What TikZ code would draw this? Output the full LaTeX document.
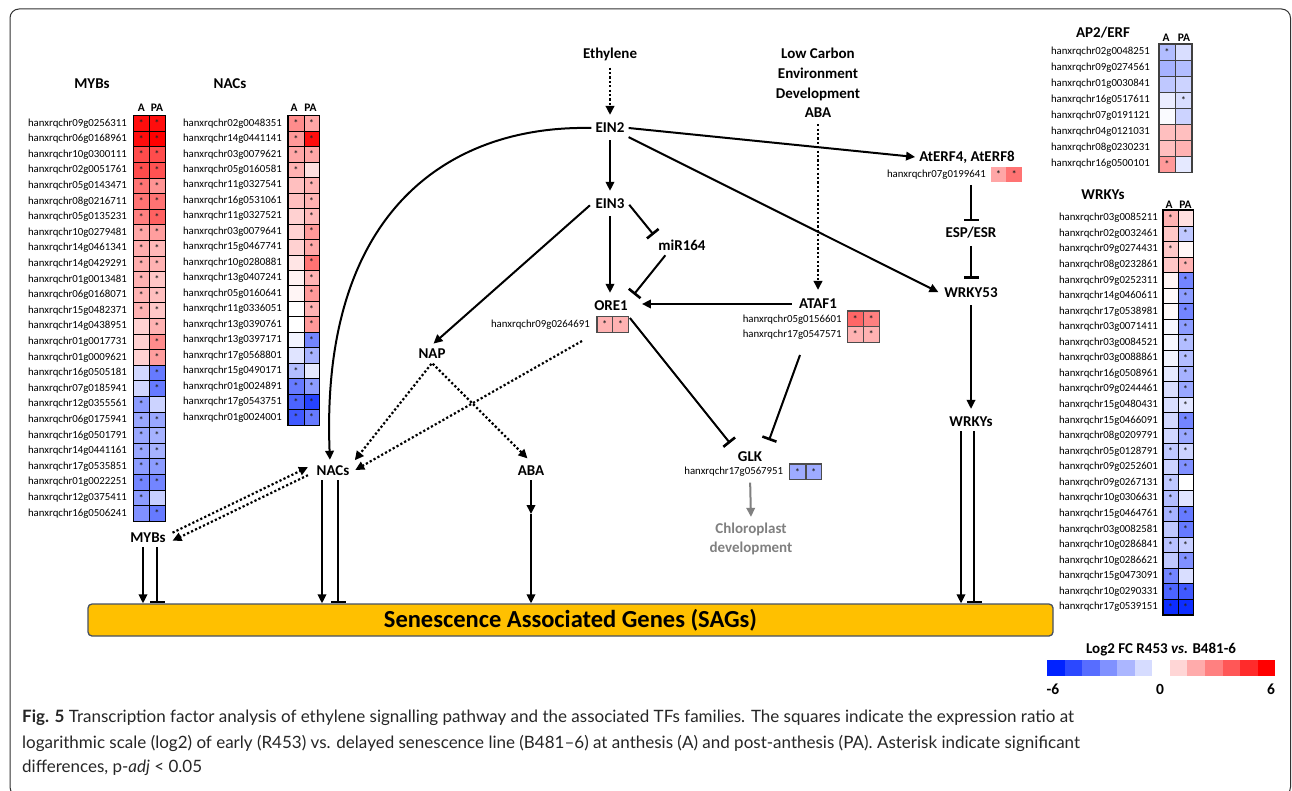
\documentclass[tikz,border=0pt]{standalone}
\usepackage{fontspec}
\setmainfont{Carlito}
\newfontfamily\capfont{Lato}
\usetikzlibrary{arrows.meta}
\definecolor{hmred}{RGB}{255,0,0}
\definecolor{hmblue}{RGB}{0,34,255}
\definecolor{sagfill}{RGB}{255,192,0}
\definecolor{sagdraw}{RGB}{70,80,100}
\definecolor{framec}{RGB}{50,50,50}
\definecolor{chlgray}{RGB}{128,128,128}
\newcommand\hmcell[5]{%
  \ifnum#4<0 \edef\hmc{hmblue!\the\numexpr 0-(#4)\relax!white}%
  \else\edef\hmc{hmred!\the\numexpr#4\relax!white}\fi
  \node[hcell,fill=\hmc] (#1) at (#2,#3) {\ifnum#5=1 \raisebox{-2.4pt}{\textbf{*}}\fi};}
\tikzset{
  lbl/.style={font=\fontsize{15}{17}\selectfont\bfseries, inner sep=4pt},
  gid/.style={font=\fontsize{10.8}{12}\selectfont, anchor=east, inner sep=0pt},
  hdr/.style={font=\fontsize{11.5}{12}\selectfont\bfseries, inner sep=0pt},
  hcell/.style={draw=black, line width=0.5pt, inner sep=0pt, font=\fontsize{9.5}{9}\selectfont,
    text=black!85, minimum width=15.5pt, minimum height=15.5pt},
  hbox/.style={draw=black, line width=1.1pt},
  act/.style={line width=2pt, -{Triangle[length=9pt,width=8.5pt]}},
  inh/.style={line width=2pt, -{Bar[width=15pt,line width=2.6pt]}},
  dotl/.style={line width=2.2pt, dash pattern=on 2.2pt off 2.2pt, -{Triangle[length=9pt,width=8.5pt]}},
  gap/.style={shorten <=3pt, shorten >=4pt},
  captxt/.style={font=\capfont\fontsize{17}{20}\selectfont, inner sep=0pt, anchor=west, text=black!85}
}
\begin{document}
\begin{tikzpicture}[x=1pt,y=-1pt]
\useasboundingbox (0,0) rectangle (1292,791);
\fill[white] (0,0) rectangle (1292,791);
\draw[framec, line width=1pt, rounded corners=9pt] (10,9) rectangle (1290.5,796);

% ---------------- MYBs heatmap
\node[lbl] (myt) at (92,84) {MYBs};
\node[hdr] (myhA) at (141.3,108) {A};
\node[hdr] (myhP) at (157,108) {PA};
\begin{scope}[hcell/.append style={minimum width=15.7pt, minimum height=15.6pt}]
\foreach \g/\va/\sa/\vp/\sp [count=\i] in {
09g0256311/95/1/95/1, 06g0168961/95/1/100/1, 10g0300111/70/1/70/1, 02g0051761/70/1/68/1,
05g0143471/55/1/42/1, 08g0216711/55/1/55/1, 05g0135231/50/1/62/1, 10g0279481/35/1/38/1,
14g0461341/32/1/28/1, 14g0429291/32/1/30/1, 01g0013481/30/1/22/1, 06g0168071/30/1/25/1,
15g0482371/30/1/22/1, 14g0438951/18/0/30/1, 01g0017731/18/0/45/1, 01g0009621/18/0/38/1,
16g0505181/-18/0/-60/1, 07g0185941/-18/0/-60/1, 12g0355561/-45/1/-20/0, 06g0175941/-40/1/-40/1,
16g0501791/-40/1/-35/1, 14g0441161/-40/1/-35/1, 17g0535851/-45/1/-45/1, 01g0022251/-55/1/-55/1,
12g0375411/-45/1/-22/0, 16g0506241/-50/0/-60/1}{
  \pgfmathsetmacro\yy{123.3+(\i-1)*15.6}
  \node[gid] (myl\i) at (127,\yy) {hanxrqchr\g};
  \hmcell{mya\i}{141.3}{\yy}{\va}{\sa}
  \hmcell{myp\i}{157}{\yy}{\vp}{\sp}
}
\end{scope}
\draw[hbox] (mya1.north west) rectangle (myp26.south east);

% ---------------- NACs heatmap
\node[lbl] (nct) at (230,84) {NACs};
\node[hdr] (nchA) at (294,108) {A};
\node[hdr] (nchP) at (310.5,108) {PA};
\begin{scope}[hcell/.append style={minimum width=15.5pt, minimum height=15.47pt}]
\foreach \g/\va/\sa/\vp/\sp [count=\i] in {
02g0048351/45/1/35/1, 14g0441141/40/1/95/1, 03g0079621/35/1/35/1, 05g0160581/30/1/12/0,
11g0327541/25/0/30/1, 16g0531061/25/0/30/1, 11g0327521/18/0/28/1, 03g0079641/18/0/40/1,
15g0467741/18/0/35/1, 10g0280881/10/0/55/1, 13g0407241/5/0/30/1, 05g0160641/4/0/40/1,
11g0336051/0/0/30/1, 13g0390761/0/0/40/1, 13g0397171/-5/0/-55/1, 17g0568801/-12/0/-35/1,
15g0490171/-30/1/-10/0, 01g0024891/-60/1/-45/1, 17g0543751/-70/1/-85/1, 01g0024001/-75/1/-60/1}{
  \pgfmathsetmacro\yy{123.3+(\i-1)*15.47}
  \node[gid] (ncl\i) at (282,\yy) {hanxrqchr\g};
  \hmcell{nca\i}{296}{\yy}{\va}{\sa}
  \hmcell{ncp\i}{311.5}{\yy}{\vp}{\sp}
}
\end{scope}
\draw[hbox] (nca1.north west) rectangle (ncp20.south east);

% ---------------- AP2/ERF heatmap
\node[lbl] (apt) at (1103,33) {AP2/ERF};
\node[hdr] (aphA) at (1166,38) {A};
\node[hdr] (aphP) at (1184,38) {PA};
\begin{scope}[hcell/.append style={minimum width=16.5pt, minimum height=16pt, draw=black!75}]
\foreach \g/\va/\sa/\vp/\sp [count=\i] in {
02g0048251/-30/1/-15/0, 09g0274561/-35/0/-30/0, 01g0030841/-25/0/-20/0, 16g0517611/-8/0/-15/1,
07g0191121/-2/0/-20/0, 04g0121031/25/0/25/0, 08g0230231/25/0/30/0, 16g0500101/40/1/-10/0}{
  \pgfmathsetmacro\yy{52+(\i-1)*16}
  \node[gid] (apl\i) at (1150,\yy) {hanxrqchr\g};
  \hmcell{apa\i}{1167}{\yy}{\va}{\sa}
  \hmcell{app\i}{1183.5}{\yy}{\vp}{\sp}
}
\end{scope}
\draw[hbox, draw=black!75] (apa1.north west) rectangle (app8.south east);

% ---------------- WRKYs heatmap
\node[lbl] (wrt) at (1103,195) {WRKYs};
\node[hdr] (wrhA) at (1169,205) {A};
\node[hdr] (wrhP) at (1185.5,205) {PA};
\begin{scope}[hcell/.append style={minimum width=15pt, minimum height=15.56pt}]
\foreach \g/\va/\sa/\vp/\sp [count=\i] in {
03g0085211/30/1/12/0, 02g0032461/22/0/-25/1, 09g0274431/22/1/3/0, 08g0232861/22/0/30/1,
09g0252311/4/0/-55/1, 14g0460611/2/0/-45/1, 17g0538981/2/0/-55/1, 03g0071411/-3/0/-45/1,
03g0084521/-3/0/-30/1, 03g0088861/-5/0/-30/1, 16g0508961/-10/0/-35/1, 09g0244461/-15/0/-40/1,
15g0480431/-15/0/-12/1, 15g0466091/-18/0/-55/1, 08g0209791/-18/0/-40/1, 05g0128791/-25/1/-20/1,
09g0252601/-20/0/-50/1, 09g0267131/-25/1/0/0, 10g0306631/-30/1/-12/0, 15g0464761/-35/1/-60/1,
03g0082581/-25/0/-60/1, 10g0286841/-28/1/-22/1, 10g0286621/-25/0/-50/1, 15g0473091/-55/1/-15/0,
10g0290331/-70/1/-75/1, 17g0539151/-95/1/-95/1}{
  \pgfmathsetmacro\yy{218+(\i-1)*15.56}
  \node[gid] (wrl\i) at (1158,\yy) {hanxrqchr\g};
  \hmcell{wra\i}{1170.5}{\yy}{\va}{\sa}
  \hmcell{wrp\i}{1185.5}{\yy}{\vp}{\sp}
}
\end{scope}
\draw[hbox] (wra1.north west) rectangle (wrp26.south east);

% ---------------- pathway nodes
\node[lbl] (eth) at (610,54) {Ethylene};
\node[lbl] (ein2) at (610,128) {EIN2};
\node[lbl] (ein3) at (610,204) {EIN3};
\node[lbl] (mir) at (682,245) {miR164};
\node[lbl] (ore) at (611,306) {ORE1};
\node[lbl, align=center, font=\fontsize{15}{19.8}\selectfont\bfseries] (low) at (818,83) {Low Carbon\\Environment\\Development\\ABA};
\node[lbl] (ataf) at (818,304) {ATAF1};
\node[lbl] (aterf) at (967,157) {AtERF4, AtERF8};
\node[lbl] (esp) at (971,233) {ESP/ESR};
\node[lbl] (wrky53) at (971,293) {WRKY53};
\node[lbl] (wrkys) at (971,422) {WRKYs};
\node[lbl] (nap) at (432,354) {NAP};
\node[lbl] (nacs) at (333,471) {NACs};
\node[lbl] (aba) at (531,471) {ABA};
\node[lbl] (glk) at (750,457) {GLK};
\node[lbl, text=chlgray, align=center, font=\fontsize{15}{19}\selectfont\bfseries] (chl) at (751,539) {Chloroplast\\development};
\node[lbl] (mybs) at (148,538) {MYBs};
\node[draw=sagdraw, fill=sagfill, line width=1.3pt, rounded corners=4pt, minimum width=965pt,
      minimum height=32pt, font=\fontsize{24.5}{26}\selectfont\bfseries] (sag) at (570.5,620)
      {Senescence Associated Genes (SAGs)};

% gene cells next to pathway nodes
\begin{scope}[hcell/.append style={minimum width=15.8pt, minimum height=15.6pt, draw=black!70}]
\node[gid] (orel) at (590,325) {hanxrqchr09g0264691};
\hmcell{orea}{604.7}{324.5}{30}{1}
\hmcell{orep}{620.5}{324.5}{30}{1}
\node[gid] (atfl1) at (841.7,319.5) {hanxrqchr05g0156601};
\node[gid] (atfl2) at (841.7,335) {hanxrqchr17g0547571};
\hmcell{atfa1}{855.3}{319}{60}{1}
\hmcell{atfp1}{871.3}{319}{50}{1}
\hmcell{atfa2}{855.3}{334.3}{30}{1}
\hmcell{atfp2}{871.3}{334.3}{30}{1}
\node[gid] (glkl) at (783.3,471.8) {hanxrqchr17g0567951};
\hmcell{glka}{797.5}{471.8}{-38}{1}
\hmcell{glkp}{813.7}{471.8}{-38}{1}
\end{scope}
\draw[hbox, draw=black!70, line width=0.9pt] (orea.north west) rectangle (orep.south east);
\draw[hbox, draw=black!70, line width=0.9pt] (atfa1.north west) rectangle (atfp2.south east);
\draw[hbox, draw=black!70, line width=0.9pt] (glka.north west) rectangle (glkp.south east);
\begin{scope}[hcell/.append style={minimum width=15.7pt, minimum height=15.6pt, draw=none}]
\node[gid] (aterfl) at (986,175) {hanxrqchr07g0199641};
\hmcell{aterfa}{998.5}{174.5}{35}{1}
\hmcell{aterfp}{1014.2}{174.5}{55}{1}
\end{scope}

% ---------------- connectors
\draw[dotl, gap] (eth) -- (ein2);
\draw[act, gap] (ein2) -- (ein3);
\draw[act] (ein2.east) -- (aterf.west);
\draw[act, shorten >=2pt] (ein2.south east) -- (wrky53.west);
\draw[act, shorten >=2pt] (ein2.west) .. controls (450,125) and (320,210) .. ([xshift=-3pt]nacs.north);
\draw[inh, shorten <=1pt, shorten >=1pt] (ein3.east) -- (mir.north west);
\draw[act, gap] (ein3) -- (ein3 |- ore.north);
\draw[act, shorten <=2pt, shorten >=2pt] (ein3.west) -- (nap.north);
\draw[inh, shorten <=1pt, shorten >=3pt] ([xshift=-16pt]mir.south) -- (ore.north east);
\draw[dotl, shorten <=2pt, shorten >=5pt] (low.south) -- (ataf.north);
\draw[act, shorten <=3pt, shorten >=10pt] (ataf.west) -- (ataf.west -| ore.east);
\coordinate (orestart) at (582,341);
\draw[dotl, shorten >=2pt] (orestart) -- (nacs.east);
\draw[dotl, shorten <=1pt, shorten >=2pt] (nap.south) -- (nacs.north east);
\draw[dotl, shorten <=1pt, shorten >=5pt] (nap.south) -- (aba.north);
\draw[inh, shorten <=2pt, shorten >=6pt] (orep.north east) -- (glk.north west);
\coordinate (atafstart) at (800,355);
\draw[inh, shorten >=8pt] (atafstart) -- (glk.north east);
\draw[chlgray, line width=2pt, -{Triangle[length=9pt,width=8.5pt]}, shorten <=6pt, shorten >=2pt] (glk.south |- glkl.south) -- (chl.north);
\coordinate (aterfbot) at (971,185);
\draw[inh, shorten >=2pt] (aterfbot) -- (esp.north);
\draw[inh, shorten <=3pt, shorten >=5pt] (esp.south) -- (wrky53.north);
\draw[act, gap] (wrky53) -- (wrkys);
% to SAGs
\draw[act] ([xshift=-10pt]wrkys.south) -- ([xshift=-10pt]wrkys.south |- sag.north);
\draw[inh] ([xshift=3pt]wrkys.south) -- ([xshift=3pt]wrkys.south |- sag.north);
\draw[act] ([xshift=-11pt]nacs.south) -- ([xshift=-11pt]nacs.south |- sag.north);
\draw[inh] ([xshift=5pt]nacs.south) -- ([xshift=5pt]nacs.south |- sag.north);
\coordinate (abamid) at (531,514);
\draw[act] (aba.south) -- (abamid);
\draw[act] (abamid) -- (abamid |- sag.north);
\draw[act] ([xshift=-5pt]mybs.south) -- ([xshift=-5pt]mybs.south |- sag.north);
\draw[inh] ([xshift=9pt]mybs.south) -- ([xshift=9pt]mybs.south |- sag.north);
\draw[dotl, shorten <=3pt, shorten >=5pt] ([yshift=4pt]mybs.east) -- ([yshift=6pt]nacs.west);
\draw[dotl, shorten <=5pt, shorten >=3pt] ([yshift=-2pt]nacs.west) -- ([yshift=-4pt]mybs.east);

% ---------------- legend
\node[font=\fontsize{15}{16}\selectfont\bfseries, inner sep=0pt] (legt) at (1161,650) {Log2 FC R453 \textit{vs.} B481-6};
\foreach \k in {0,...,12}{
  \pgfmathtruncatemacro\pp{abs(\k-6)*100/6}
  \ifnum\k<6 \def\lc{hmblue}\else\def\lc{hmred}\fi
  \fill[\lc!\pp!white] (1047+\k*17.55,660) rectangle ++(17.6,16);
}
\node[font=\fontsize{15.5}{16}\selectfont\bfseries, inner sep=0pt] (lgm) at (1053,689) {-6};
\node[font=\fontsize{15.5}{16}\selectfont\bfseries, inner sep=0pt] (lgz) at (1160,689) {0};
\node[font=\fontsize{15.5}{16}\selectfont\bfseries, inner sep=0pt] (lgp) at (1271,689) {6};

% ---------------- caption
\node[captxt] (cap1) at (22,718) {\textbf{Fig. 5} Transcription factor analysis of ethylene signalling pathway and the associated TFs families. The squares indicate the expression ratio at};
\node[captxt] (cap2) at (22,743) {logarithmic scale (log2) of early (R453) vs. delayed senescence line (B481–6) at anthesis (A) and post-anthesis (PA). Asterisk indicate significant};
\node[captxt] (cap3) at (22,768) {differences, p-\textit{adj} < 0.05};
\end{tikzpicture}
\end{document}
